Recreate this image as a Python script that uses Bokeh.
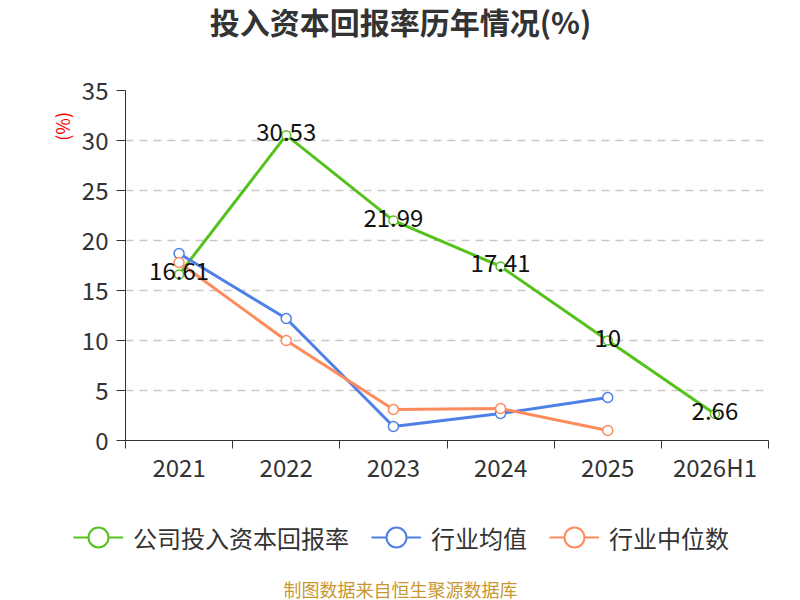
import numpy as np
from bokeh.plotting import figure
from bokeh.layouts import column
from bokeh.models import (ColumnDataSource, FixedTicker, Label, Legend, LegendItem,
                          LinearAxis, Range1d)
from bokeh.embed import file_html
from bokeh.resources import INLINE
from bokeh.core.properties import value

# ---- data ----
categories = ["2021", "2022", "2023", "2024", "2025", "2026H1"]
company_roic = [16.61, 30.53, 21.99, 17.41, 10, 2.66]
industry_avg = [18.7, 12.2, 1.4, 2.7, 4.3]
industry_median = [17.8, 10.0, 3.1, 3.2, 1.0]
y_ticks = [0, 5, 10, 15, 20, 25, 30, 35]
series_names = ["公司投入资本回报率", "行业均值", "行业中位数"]
title_text = "投入资本回报率历年情况(%)"
unit_text = "(%)"
source_text = "制图数据来自恒生聚源数据库"

FONT = "Noto Sans CJK SC"
GREEN = "#55c21c"
BLUE = "#4f80e6"
ORANGE = "#fd8b5c"
W = 800

xs = [i + 0.5 for i in range(len(categories))]

# ---- title strip ----
tf = figure(width=W, height=60, x_axis_type=None, y_axis_type=None,
            output_backend="svg", toolbar_location=None, min_border=0,
            x_range=Range1d(0, 1), y_range=Range1d(0, 1), frame_align=False)
tf.outline_line_color = None
tf.add_layout(Label(x=400, y=40, x_units="screen", y_units="screen",
                    text=title_text, text_align="center", text_baseline="middle",
                    text_font_size="30px", text_font_style="bold",
                    text_color="#333333", text_font=FONT))

# ---- main chart ----
p = figure(width=W, height=440, x_range=Range1d(0, len(categories)),
           y_range=Range1d(0, 35), output_backend="svg", toolbar_location=None,
           min_border_left=125, min_border_right=32, min_border_top=30,
           min_border_bottom=60, frame_align=False)
p.outline_line_color = None

xa = p.xaxis[0]
xa.ticker = FixedTicker(ticks=xs, minor_ticks=list(range(len(categories) + 1)))
xa.major_label_overrides = {x: c for x, c in zip(xs, categories)}
xa.major_tick_out = 0
xa.major_tick_in = 0
xa.minor_tick_out = 8
xa.minor_tick_in = 0
xa.minor_tick_line_color = "#333333"
xa.axis_line_color = "#333333"
xa.major_label_standoff = 0
xa.major_label_text_font_size = "24px"
xa.major_label_text_font = FONT
xa.major_label_text_color = "#333333"

ya = p.yaxis[0]
ya.ticker = FixedTicker(ticks=y_ticks, minor_ticks=[])
ya.major_tick_out = 9
ya.major_tick_in = 0
ya.minor_tick_out = 0
ya.major_tick_line_color = "#333333"
ya.axis_line_color = "#333333"
ya.major_label_standoff = 8
ya.major_label_text_font_size = "24px"
ya.major_label_text_font = FONT
ya.major_label_text_color = "#333333"

# unit label as a second left axis with one tick
ua = LinearAxis(ticker=FixedTicker(ticks=[32.85], minor_ticks=[]),
                major_label_overrides={32.85: unit_text},
                axis_line_color=None, major_tick_line_color=None,
                minor_tick_line_color=None, major_label_orientation=np.pi / 2,
                major_label_standoff=11, major_label_text_font_size="18px",
                major_label_text_color="#ff0000", major_label_text_font=FONT)
p.add_layout(ua, "left")

p.xgrid.visible = False
p.ygrid.grid_line_color = "#c8c8c8"
p.ygrid.grid_line_dash = "8 6"
p.ygrid.grid_line_width = 1.4

n2 = len(industry_avg)
src_c = ColumnDataSource(dict(x=xs, y=company_roic, t=[f"{v:g}" for v in company_roic]))
src_a = ColumnDataSource(dict(x=xs[:n2], y=industry_avg))
src_m = ColumnDataSource(dict(x=xs[:n2], y=industry_median))

p.line("x", "y", source=src_c, line_color=GREEN, line_width=3)
p.line("x", "y", source=src_a, line_color=BLUE, line_width=3)
p.line("x", "y", source=src_m, line_color=ORANGE, line_width=3)
p.scatter("x", "y", source=src_c, size=9, fill_color="white", line_color=GREEN, line_width=1.5)
p.scatter("x", "y", source=src_a, size=10, fill_color="white", line_color=BLUE, line_width=1.5)
p.scatter("x", "y", source=src_m, size=10, fill_color="white", line_color=ORANGE, line_width=1.5)

p.text("x", "y", text="t", source=src_c, text_align="center", text_baseline="middle",
       y_offset=-3, text_font_size="24px", text_font=value(FONT), text_color="#111111")

# ---- legend + source strip ----
bf = figure(width=W, height=100, x_axis_type=None, y_axis_type=None,
            output_backend="svg", toolbar_location=None, min_border=0,
            x_range=Range1d(0, 1), y_range=Range1d(0, 1), frame_align=False)
bf.outline_line_color = None
items = []
for name, col in zip(series_names, [GREEN, BLUE, ORANGE]):
    lsrc = ColumnDataSource(dict(x=[np.nan], y=[np.nan]))
    lr = bf.line("x", "y", source=lsrc, line_color=col, line_width=2)
    sr = bf.scatter("x", "y", source=lsrc, size=20, fill_color="white",
                    line_color=col, line_width=2)
    items.append(LegendItem(label=name, renderers=[lr, sr]))

legend = Legend(items=items, orientation="horizontal", location=(73, 38),
                glyph_width=50, glyph_height=50, label_standoff=10, spacing=22,
                padding=0, margin=0, border_line_color=None, background_fill_alpha=0,
                label_text_font_size="24px", label_text_color="#333333",
                label_text_font=FONT, label_text_baseline="middle")
bf.add_layout(legend)
bf.add_layout(Label(x=400, y=12, x_units="screen", y_units="screen",
                    text=source_text, text_align="center", text_baseline="middle",
                    text_font_size="18px", text_color="#c8972f", text_font=FONT))

layout = column(tf, p, bf, spacing=0)
open("out.html", "w").write(file_html(layout, INLINE))
